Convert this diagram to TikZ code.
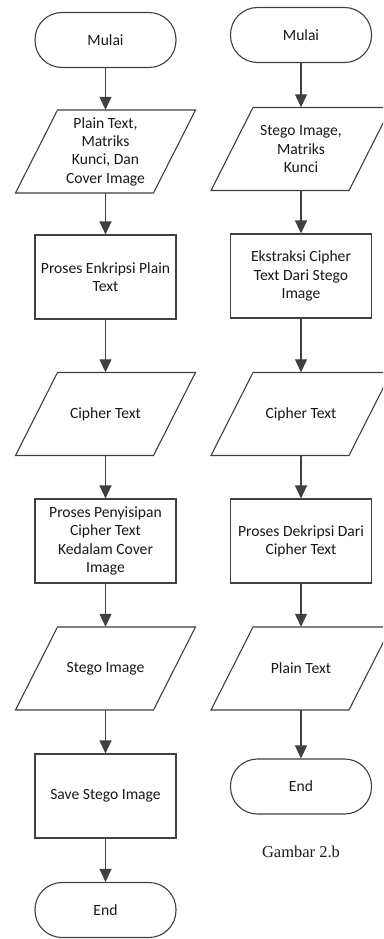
\documentclass[tikz,border=0pt]{standalone}
\usepackage{fontspec}
\setmainfont{Carlito}
\newfontfamily\capfont{Liberation Serif}
\usetikzlibrary{arrows.meta}
\newcommand\iopath[1]{\draw[lineclr] ([shift={(-48,-41.5)}]#1.center) -- ([shift={(90,-41.5)}]#1.center) -- ([shift={(48,41.5)}]#1.center) -- ([shift={(-90,41.5)}]#1.center) -- cycle;}
\begin{document}
\begin{tikzpicture}[x=1pt,y=-1pt,
  every node/.style={font=\fontsize{15.6}{18.3}\selectfont, text=black!90, align=center},
  lineclr/.style={draw=black!75, line width=1.1pt},
  term/.style={lineclr, rectangle, rounded corners=27pt, minimum width=141pt, minimum height=55pt, fill=white, inner sep=0pt},
  procbox/.style={lineclr, rectangle, minimum width=141pt, minimum height=84pt, fill=white, inner sep=0pt},
  iobox/.style={rectangle, minimum width=138pt, minimum height=83pt, inner sep=0pt},
  flow/.style={lineclr, -{Triangle[length=13pt,width=12pt]}}
]
\useasboundingbox (0,0) rectangle (383,939);
\clip (0,0) rectangle (383,939);
\fill[white] (0,0) rectangle (383,939);
% left column
\node[term] (L1) at (105.5,40) {Mulai};
\node[iobox] (L2) at (105.5,151.5) {Plain Text,\\Matriks\\Kunci, Dan\\Cover Image};
\iopath{L2}
\node[procbox] (L3) at (105.5,277) {Proses Enkripsi Plain\\Text};
\node[iobox] (L4) at (105.5,414) {Cipher Text};
\iopath{L4}
\node[procbox] (L5) at (105.5,541) {Proses Penyisipan\\Cipher Text\\Kedalam Cover\\Image};
\node[iobox] (L6) at (105.5,668.5) {Stego Image};
\iopath{L6}
\node[procbox] (L7) at (105.5,796) {Save Stego Image};
\node[term] (L8) at (105.5,910) {End};
% right column
\node[term] (R1) at (301,35) {Mulai};
\node[iobox] (R2) at (301,149) {Stego Image,\\Matriks\\Kunci};
\iopath{R2}
\node[procbox] (R3) at (301,276) {Ekstraksi Cipher\\Text Dari Stego\\Image};
\node[iobox] (R4) at (301,414) {Cipher Text};
\iopath{R4}
\node[procbox] (R5) at (301,541) {Proses Dekripsi Dari\\Cipher Text};
\node[iobox] (R6) at (301,668.5) {Plain Text};
\iopath{R6}
\node[term] (R7) at (301,786.5) {End};
\node[font=\capfont\fontsize{16.5}{19}\selectfont] (cap) at (301,852) {Gambar 2.b};
% connectors
\draw[flow] (L1) -- (L2);
\draw[flow] (L2) -- (L3);
\draw[flow] (L3) -- (L4);
\draw[flow] (L4) -- (L5);
\draw[flow] (L5) -- (L6);
\draw[flow] (L6) -- (L7);
\draw[flow] (L7) -- (L8);
\draw[flow] (R1) -- (R2);
\draw[flow] (R2) -- (R3);
\draw[flow] (R3) -- (R4);
\draw[flow] (R4) -- (R5);
\draw[flow] (R5) -- (R6);
\draw[flow] (R6) -- (R7);
\end{tikzpicture}
\end{document}
